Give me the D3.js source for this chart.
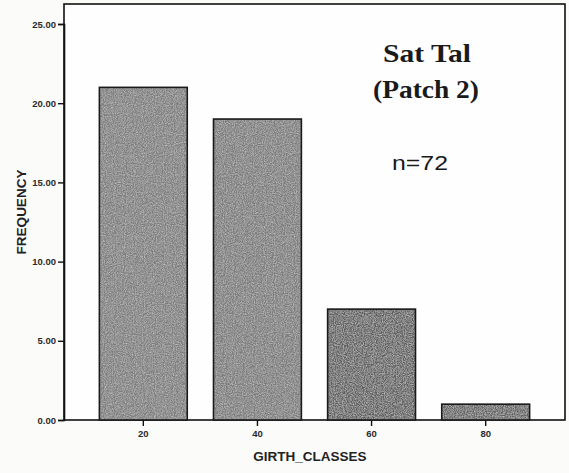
<!DOCTYPE html>
<html>
<head>
<meta charset="utf-8">
<script src="https://cdn.jsdelivr.net/npm/d3@7"></script>
<style>
html,body{margin:0;padding:0;background:#fbfbfa;}
svg{display:block;}
</style>
</head>
<body>
<svg id="chart" width="569" height="473"></svg>
<script>
const categories = ["20", "40", "60", "80"];
const frequencies = [21, 19, 7, 1];
const yTicks = [0, 5, 10, 15, 20, 25];
const barColors = ["#7e7e7e", "#7c7c7c", "#606060", "#646464"];
const titleLines = ["Sat Tal", "(Patch 2)"];
const nLabel = "n=72";
const xTitle = "GIRTH_CLASSES";
const yTitle = "FREQUENCY";

const svg = d3.select("#chart");
const frame = {left: 64, top: 4, right: 565, bottom: 420};

const y = d3.scaleLinear().domain([0, 25]).range([frame.bottom, 24]);
const x = d3.scaleBand().domain(categories)
  .range([frame.left, frame.right])
  .paddingInner(0.23).paddingOuter(0.31);

// grain texture filter for the scanned look
const defs = svg.append("defs");
const f = defs.append("filter").attr("id", "grain").attr("x", 0).attr("y", 0).attr("width", 1).attr("height", 1);
f.append("feTurbulence").attr("type", "fractalNoise").attr("baseFrequency", 0.9).attr("numOctaves", 2).attr("seed", 3).attr("result", "noise");
f.append("feColorMatrix").attr("in", "noise").attr("type", "matrix")
  .attr("values", "0 0 0 0 0.55  0 0 0 0 0.55  0 0 0 0 0.55  0.9 0.9 0.9 0 -1.1").attr("result", "spots");
f.append("feComposite").attr("in", "spots").attr("in2", "SourceGraphic").attr("operator", "atop").attr("result", "tex");
f.append("feMerge").call(m => { m.append("feMergeNode").attr("in", "SourceGraphic"); m.append("feMergeNode").attr("in", "tex"); });

// frame
svg.append("rect")
  .attr("x", frame.left).attr("y", frame.top)
  .attr("width", frame.right - frame.left).attr("height", frame.bottom - frame.top)
  .attr("fill", "#fefefe").attr("stroke", "#111").attr("stroke-width", 1.6);

// bars
const bars = svg.append("g");
bars.selectAll("rect.fill").data(frequencies).join("rect").attr("class", "fill")
  .attr("x", (d, i) => x(categories[i]))
  .attr("width", x.bandwidth())
  .attr("y", d => y(d))
  .attr("height", d => y(0) - y(d))
  .attr("fill", (d, i) => barColors[i])
  .attr("filter", "url(#grain)");
bars.selectAll("rect.edge").data(frequencies).join("rect").attr("class", "edge")
  .attr("x", (d, i) => x(categories[i]))
  .attr("width", x.bandwidth())
  .attr("y", d => y(d))
  .attr("height", d => y(0) - y(d))
  .attr("fill", "none")
  .attr("stroke", "#1a1a1a").attr("stroke-width", 1.6);

// y axis
const yAxis = d3.axisLeft(y).tickValues(yTicks).tickFormat(d3.format(".2f")).tickSize(6).tickPadding(2);
const gy = svg.append("g").attr("transform", `translate(${frame.left},0)`).call(yAxis);
gy.select(".domain").attr("stroke", "#111").attr("stroke-width", 1.6);
gy.selectAll(".tick line").attr("stroke", "#111").attr("stroke-width", 1.4);
gy.selectAll(".tick text").attr("font-family", "Arial, 'Liberation Sans', sans-serif")
  .attr("font-size", 9.5).attr("font-weight", "bold").attr("fill", "#2a2a2a");

// x axis
const xAxis = d3.axisBottom(x).tickSize(6).tickPadding(4);
const gx = svg.append("g").attr("transform", `translate(0,${frame.bottom})`).call(xAxis);
gx.select(".domain").remove();
gx.selectAll(".tick line").attr("stroke", "#111").attr("stroke-width", 1.4);
gx.selectAll(".tick text").attr("font-family", "Arial, 'Liberation Sans', sans-serif")
  .attr("font-size", 9.5).attr("font-weight", "bold").attr("fill", "#2a2a2a");

// axis titles
svg.append("text").attr("x", 310).attr("y", 461).attr("text-anchor", "middle")
  .attr("font-family", "Arial, 'Liberation Sans', sans-serif").attr("font-size", 13.5)
  .attr("font-weight", "bold").attr("fill", "#222").text(xTitle);
svg.append("text").attr("transform", "translate(26,212) rotate(-90)").attr("text-anchor", "middle")
  .attr("font-family", "Arial, 'Liberation Sans', sans-serif").attr("font-size", 13.5)
  .attr("font-weight", "bold").attr("fill", "#222").text(yTitle);

// annotations
svg.append("text").attr("x", 427).attr("y", 62).attr("text-anchor", "middle")
  .attr("font-family", "'Liberation Serif', 'Times New Roman', serif").attr("font-size", 26)
  .attr("textLength", 88).attr("lengthAdjust", "spacingAndGlyphs")
  .attr("font-weight", "bold").attr("fill", "#1a1a1a").text(titleLines[0]);
svg.append("text").attr("x", 426).attr("y", 98).attr("text-anchor", "middle")
  .attr("font-family", "'Liberation Serif', 'Times New Roman', serif").attr("font-size", 26)
  .attr("textLength", 106).attr("lengthAdjust", "spacingAndGlyphs")
  .attr("font-weight", "bold").attr("fill", "#1a1a1a").text(titleLines[1]);
svg.append("text").attr("x", 420).attr("y", 170).attr("text-anchor", "middle")
  .attr("font-family", "Arial, 'Liberation Sans', sans-serif").attr("font-size", 20)
  .attr("textLength", 56).attr("lengthAdjust", "spacingAndGlyphs")
  .attr("fill", "#1a1a1a").text(nLabel);
</script>
</body>
</html>
